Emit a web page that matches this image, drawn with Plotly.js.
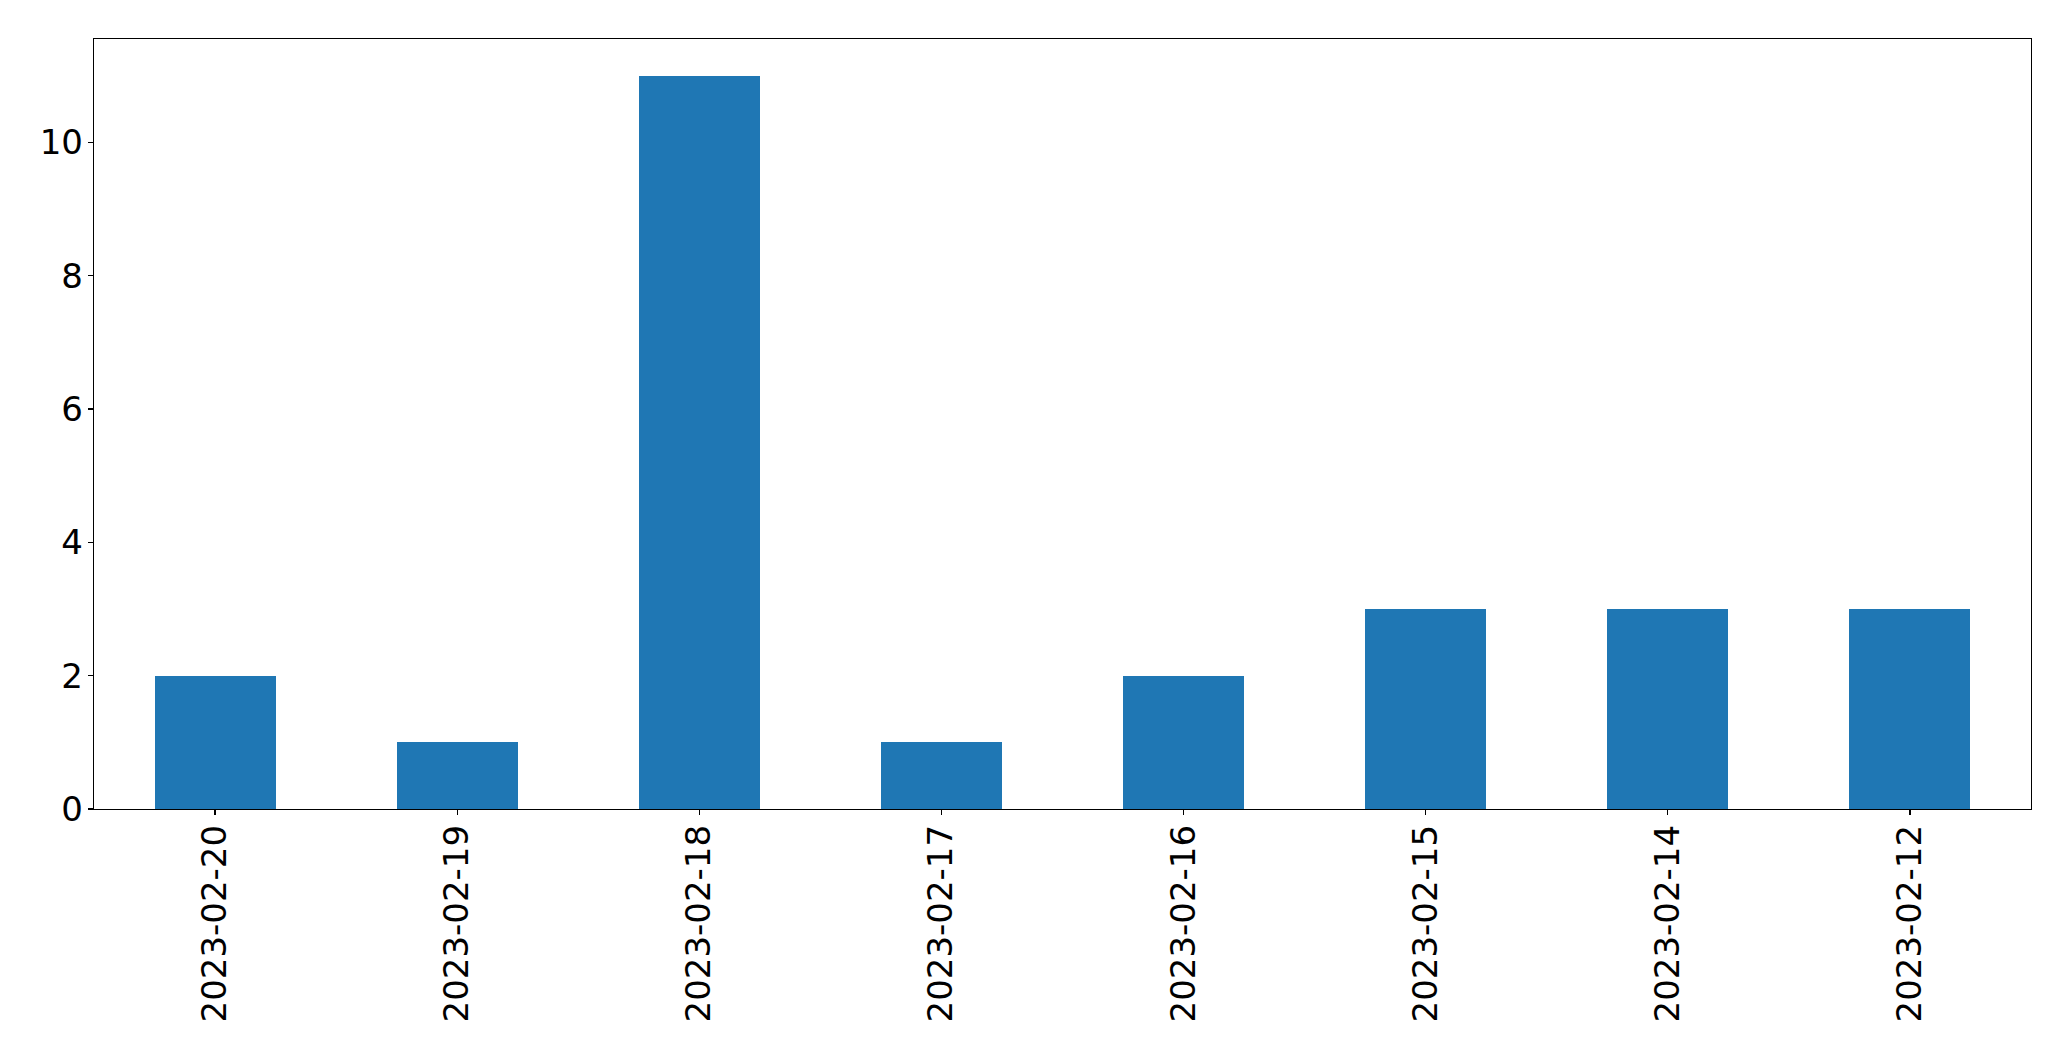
<!DOCTYPE html>
<html>
<head>
<meta charset="utf-8">
<script src="https://cdn.plot.ly/plotly-3.0.1.min.js"></script>
<style>html,body{margin:0;padding:0;background:#fff;}#chart{width:2071px;height:1061px;}</style>
</head>
<body>
<div id="chart"></div>
<script>
const categories = ["2023-02-20","2023-02-19","2023-02-18","2023-02-17","2023-02-16","2023-02-15","2023-02-14","2023-02-12"];
const counts = [2, 1, 11, 1, 2, 3, 3, 3];
const yTicks = [0, 2, 4, 6, 8, 10];

const trace = {
  type: 'bar',
  x: categories,
  y: counts,
  width: 0.5,
  marker: {color: '#1f77b4', line: {width: 0}},
  hoverinfo: 'x+y'
};

const axisFont = {family: 'DejaVu Sans, sans-serif', size: 34, color: '#000'};

const layout = {
  width: 2071,
  height: 1061,
  margin: {l: 94, r: 40, t: 39, b: 252, pad: 0},
  paper_bgcolor: '#fff',
  plot_bgcolor: '#fff',
  showlegend: false,
  bargap: 0,
  xaxis: {
    type: 'category',
    range: [-0.5, 7.5],
    tickangle: -90,
    tickfont: axisFont,
    ticks: 'outside',
    ticklen: 5,
    tickwidth: 1.3,
    tickcolor: '#000',
    ticklabelstandoff: -4,
    showline: true,
    linecolor: '#000',
    linewidth: 1.3,
    mirror: true,
    showgrid: false,
    zeroline: false,
    automargin: false
  },
  yaxis: {
    range: [0, 11.55],
    tickvals: yTicks,
    ticktext: yTicks.map(String),
    tickfont: axisFont,
    ticks: 'outside',
    ticklen: 5,
    tickwidth: 1.3,
    tickcolor: '#000',
    ticklabelstandoff: -2,
    showline: true,
    linecolor: '#000',
    linewidth: 1.3,
    mirror: true,
    showgrid: false,
    zeroline: false,
    automargin: false
  }
};

Plotly.newPlot('chart', [trace], layout, {displayModeBar: false, staticPlot: true});
</script>
</body>
</html>
